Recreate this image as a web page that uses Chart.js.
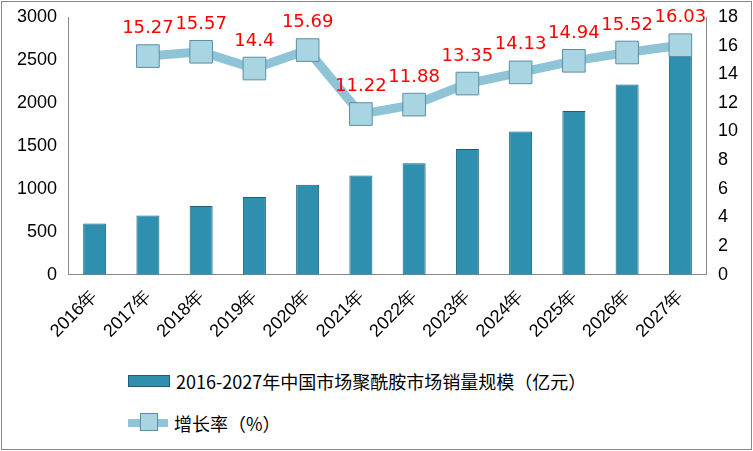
<!DOCTYPE html>
<html><head><meta charset="utf-8">
<script src="https://cdn.jsdelivr.net/npm/chart.js@4"></script>
<style>
body{margin:0;background:#fff;font-family:"Noto Sans CJK SC","DejaVu Sans",sans-serif}
#box{position:absolute;left:1px;top:1px;width:749px;height:447px;border:1px solid #888;}
#wrap{position:absolute;left:0;top:0;width:753px;height:345px}
.lg{position:absolute;left:128px;font-size:18px;color:#000;display:flex;align-items:center}
</style></head><body>
<div id="box"></div>
<div id="wrap"><canvas id="c"></canvas></div>
<div class="lg" style="top:368px"><span style="display:inline-block;width:40px;height:10px;background:#2e8fae;border:1px solid #1b5e75;margin-right:6px"></span>2016-2027年中国市场聚酰胺市场销量规模（亿元）</div>
<div class="lg" style="top:410px"><span style="position:relative;display:inline-block;width:40px;height:8px;background:#8fc3d6;margin-right:6px"><span style="position:absolute;left:12px;top:-6px;width:16px;height:16px;background:#a9d5e3;border:1px solid #5a8fa3"></span></span>增长率（%）</div>
<script>
var years = ['2016年','2017年','2018年','2019年','2020年','2021年','2022年','2023年','2024年','2025年','2026年','2027年'];
var sales = [595, 690, 800, 905, 1048, 1155, 1298, 1464, 1667, 1905, 2214, 2571];
var growth = [null, 15.27, 15.57, 14.4, 15.69, 11.22, 11.88, 13.35, 14.13, 14.94, 15.52, 16.03];

var labelPlugin = {
  id: 'lbl',
  afterDatasetsDraw: function(chart){
    var ctx = chart.ctx, meta = chart.getDatasetMeta(0);
    ctx.save();
    ctx.fillStyle = '#ff0000';
    ctx.font = '18px "DejaVu Sans", sans-serif';
    ctx.textAlign = 'center';
    meta.data.forEach(function(p, i){
      if (growth[i] == null) return;
      ctx.fillText(String(growth[i]), p.x, p.y - 23);
    });
    ctx.restore();
  }
};

new Chart(document.getElementById('c').getContext('2d'), {
  type: 'bar',
  data: {
    labels: years,
    datasets: [{
      type: 'line', data: growth, yAxisID: 'y1',
      borderColor: '#8fc3d6', borderWidth: 9, tension: 0,
      pointStyle: 'rect', pointRadius: 16, pointBackgroundColor: '#a9d5e3',
      pointBorderColor: '#5a8fa3', pointBorderWidth: 1, order: 0
    }, {
      data: sales, yAxisID: 'y',
      backgroundColor: '#2e8fae', borderColor: '#1b5e75', borderWidth: 1,
      categoryPercentage: 0.9, barPercentage: 0.48, order: 1
    }]
  },
  options: {
    responsive: true, maintainAspectRatio: false, animation: false,
    layout: {padding: {top: 14, left: 14, right: 12}},
    plugins: {legend: {display: false}, tooltip: {enabled: false}},
    scales: {
      x: {grid: {display: false}, border: {color: '#888'},
          ticks: {color: '#000', font: {size: 18}, maxRotation: 45, minRotation: 45}},
      y: {min: 0, max: 3000, grid: {display: false}, border: {color: '#888'},
          ticks: {stepSize: 500, color: '#000', font: {size: 18}, callback: function(v){ return String(v); }}},
      y1: {position: 'right', min: 0, max: 18, grid: {display: false}, border: {color: '#888'},
          ticks: {stepSize: 2, color: '#000', font: {size: 18}}}
    }
  },
  plugins: [labelPlugin]
});
</script>
</body></html>
